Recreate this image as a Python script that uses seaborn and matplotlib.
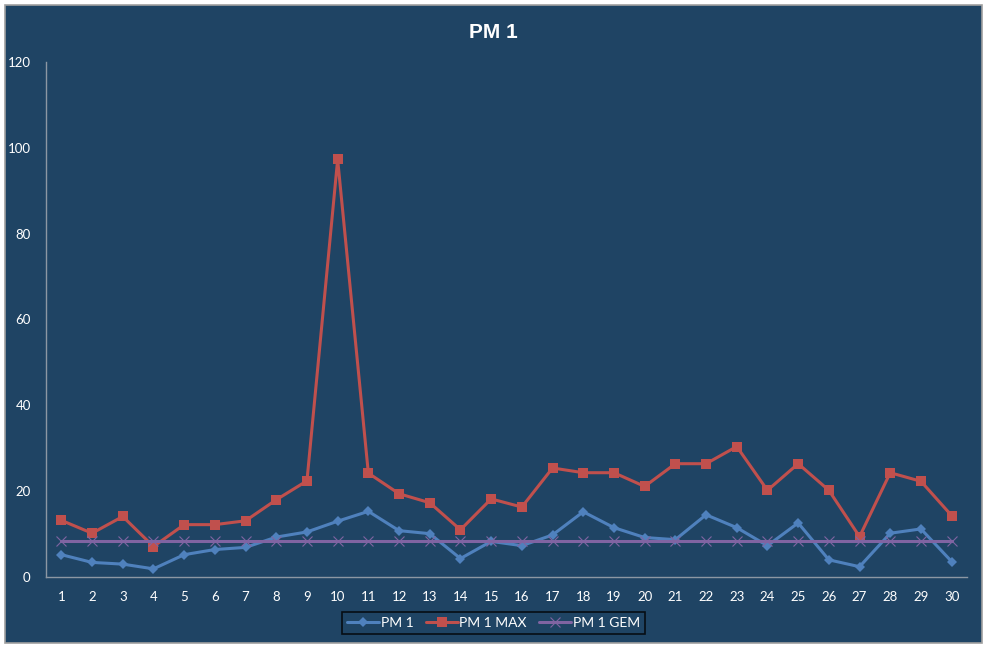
import matplotlib
matplotlib.use("Agg")
import matplotlib.pyplot as plt
from matplotlib.patches import Rectangle
from matplotlib.ticker import FixedLocator
import seaborn as sns
import pandas as pd

# =========================
# DADES (llegides del gràfic)
# =========================
dagen = list(range(1, 31))
pm1 = [5.2, 3.4, 3.0, 1.9, 5.2, 6.4, 6.9, 9.3, 10.5, 13.0,
       15.3, 10.8, 10.1, 4.3, 8.3, 7.3, 9.8, 15.2, 11.5, 9.2,
       8.7, 14.5, 11.5, 7.3, 12.6, 4.0, 2.4, 10.2, 11.2, 3.6]
pm1_max = [13.2, 10.2, 14.1, 7.1, 12.2, 12.2, 13.1, 18.0, 22.4, 97.3,
           24.2, 19.4, 17.3, 11.0, 18.2, 16.3, 25.4, 24.3, 24.3, 21.1,
           26.4, 26.4, 30.4, 20.2, 26.4, 20.2, 9.4, 24.3, 22.3, 14.3]
pm1_gem = [8.5, 8.5, 8.5, 8.5, 8.5, 8.5, 8.5, 8.5, 8.5, 8.5,
           8.5, 8.5, 8.5, 8.5, 8.5, 8.5, 8.5, 8.5, 8.5, 8.5,
           8.5, 8.5, 8.5, 8.5, 8.5, 8.5, 8.5, 8.5, 8.5, 8.5]
y_ticks = [0, 20, 40, 60, 80, 100, 120]

df = pd.DataFrame({'dag': dagen, 'PM 1': pm1, 'PM 1 MAX': pm1_max, 'PM 1 GEM': pm1_gem})

# =========================
# ESTIL
# =========================
sns.set_style("white")
plt.rcParams['font.family'] = ['Lato', 'DejaVu Sans']
bg = '#1F4464'
txt = '#FFFFFF'
axis_col = '#8C97A3'
blauw, rood, paars = '#4F81BD', '#C0504D', '#8064A2'

fig = plt.figure(figsize=(9.87, 6.48), dpi=100)
fig.patch.set_facecolor('white')
marc = Rectangle((5 / 987, 5 / 648), 977 / 987, 638 / 648,
                 transform=fig.transFigure, facecolor=bg,
                 edgecolor='#A0A0A0', linewidth=1.2, zorder=-10)
fig.patches.append(marc)

ax = fig.add_axes([46 / 987, 71 / 648, 921 / 987, 515 / 648])
ax.set_facecolor(bg)
ax.patch.set_alpha(0)

sns.lineplot(data=df, x='dag', y='PM 1', ax=ax, color=blauw, marker='D',
             markersize=5.5, markeredgewidth=0, markeredgecolor=blauw,
             linewidth=2.2, label='PM 1')
sns.lineplot(data=df, x='dag', y='PM 1 MAX', ax=ax, color=rood, marker='s',
             markersize=7.5, markeredgewidth=0, markeredgecolor=rood,
             linewidth=2.2, label='PM 1 MAX')
sns.lineplot(data=df, x='dag', y='PM 1 GEM', ax=ax, color=paars, marker='x',
             markersize=7, markeredgewidth=0.8, markeredgecolor=paars,
             linewidth=2.2, label='PM 1 GEM')

# =========================
# EIXOS
# =========================
ax.set_xlim(0.5, 30.5)
ax.set_ylim(0, 120)
ax.set_xticks(dagen)
ax.set_xticklabels([str(d) for d in dagen])
ax.xaxis.set_minor_locator(FixedLocator([d + 0.5 for d in range(0, 31)]))
ax.set_yticks(y_ticks)
ax.tick_params(axis='x', which='major', length=0, pad=10, labelcolor=txt, labelsize=9.5)
ax.tick_params(axis='x', which='minor', length=5, width=1, color=axis_col, direction='out')
ax.tick_params(axis='y', which='major', length=5, width=1, color=axis_col, labelcolor=txt,
               labelsize=9.5, pad=6, direction='out')

for side in ['top', 'right']:
    ax.spines[side].set_visible(False)
for side in ['left', 'bottom']:
    ax.spines[side].set_color(axis_col)
    ax.spines[side].set_linewidth(1)
ax.set_xlabel('')
ax.set_ylabel('')
ax.grid(False)

fig.text(0.5, 1 - 32 / 648, 'PM 1', ha='center', va='center', color=txt,
         fontsize=15, fontweight='bold', family=['Liberation Sans', 'DejaVu Sans'])

leg = ax.legend(loc='center', bbox_to_anchor=(0.5, 1 - 623 / 648), bbox_transform=fig.transFigure,
                ncol=3, frameon=True, fontsize=10, handlelength=2.3, columnspacing=0.9,
                handletextpad=0.1, borderpad=0.35, fancybox=False)
leg.get_frame().set_facecolor(bg)
leg.get_frame().set_edgecolor('black')
leg.get_frame().set_linewidth(1.2)
for t in leg.get_texts():
    t.set_color(txt)

fig.savefig('out.png', dpi=100, facecolor=fig.get_facecolor())
